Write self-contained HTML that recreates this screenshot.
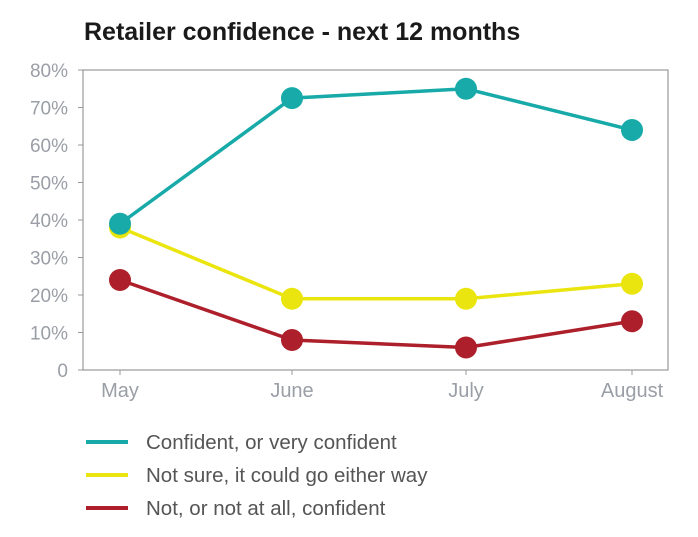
<!DOCTYPE html>
<html><head><meta charset="utf-8"><style>
body{margin:0;background:#fff;width:698px;height:532px;overflow:hidden}
svg text{font-family:"Liberation Sans",sans-serif}
</style></head><body>
<svg width="698" height="532">
<text x="84" y="40" font-size="25" font-weight="bold" fill="#1a1a1a">Retailer confidence - next 12 months</text>
<g id="axes"></g><g id="series"></g><g id="legend"></g>
</svg>
<script>
const categories=["May","June","July","August"];
const yTicks=[0,10,20,30,40,50,60,70,80];
const confident=[39,72.5,75,64];
const notSure=[38,19,19,23];
const notConfident=[24,8,6,13];
const seriesNames=["Confident, or very confident","Not sure, it could go either way","Not, or not at all, confident"];
const colors=["#17aaa8","#ebe50f","#ad1f2a"];
const L=83,R=668,T=70,B=370;
const xs=[120,292,466,632];
const x=i=>xs[i];
const y=v=>B-(v/80)*(B-T);
const NS="http://www.w3.org/2000/svg";
function mk(tag,attrs,parent){const e=document.createElementNS(NS,tag);for(const k in attrs)e.setAttribute(k,attrs[k]);parent.appendChild(e);return e;}
const ax=document.getElementById('axes');
const frame=mk('rect',{x:L,y:T,width:R-L,height:B-T,fill:'none',stroke:'#999','stroke-width':1.2},ax);


yTicks.forEach(t=>{
 const ln=mk('line',{x1:L-5,x2:L,y1:y(t),y2:y(t),stroke:'#999'},ax);
 
 
 const tx=mk('text',{x:68,y:y(t)+7,'text-anchor':'end','font-size':19,fill:'#9a9ea6'},ax);
 tx.textContent=t===0?"0":t+"%";
 
 
});
categories.forEach((c,i)=>{
 const ln=mk('line',{x1:x(i),x2:x(i),y1:B,y2:B+5,stroke:'#999'},ax);
 
 
 const tx=mk('text',{x:x(i),y:B+27,'text-anchor':'middle','font-size':20,fill:'#9a9ea6'},ax);
 tx.textContent=c;
 
 
});
const sg=document.getElementById('series');
[notConfident,notSure,confident].forEach((d,k)=>{
 const idx=2-k;
 const g=mk('g',{},sg);
 
 
 const pl=mk('polyline',{points:d.map((v,i)=>x(i)+','+y(v)).join(' '),fill:'none',stroke:colors[idx],'stroke-width':3.5},g);
 
 
 d.forEach((v,i)=>{
  const c=mk('circle',{cx:x(i),cy:y(v),r:11,fill:colors[idx]},g);
  
  
 });
});
const lg=document.getElementById('legend');
seriesNames.forEach((n,i)=>{
 const yy=442+i*33;
 const g=mk('g',{},lg);
 
 
 mk('line',{x1:86,x2:128,y1:yy,y2:yy,stroke:colors[i],'stroke-width':4},g);
 const t=mk('text',{x:146,y:yy+7,'font-size':20.5,fill:'#555'},g);
 t.textContent=n;
});
</script>
</body></html>
